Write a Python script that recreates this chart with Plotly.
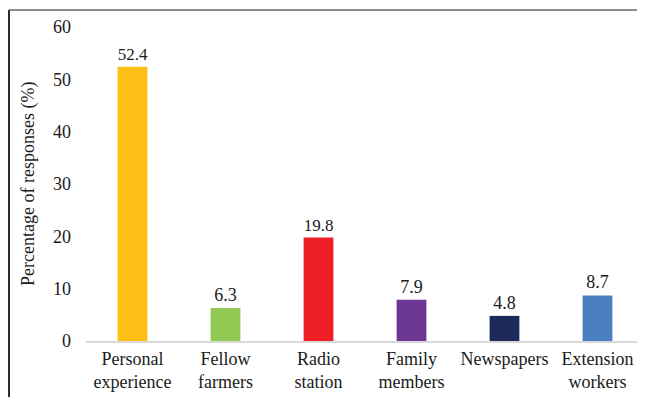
import plotly.graph_objects as go

categories = ["Personal<br>experience", "Fellow<br>farmers", "Radio<br>station",
              "Family<br>members", "Newspapers", "Extension<br>workers"]
values = [52.4, 6.3, 19.8, 7.9, 4.8, 8.7]
bar_colors = ["#FDBF16", "#92C954", "#EE1F25", "#6C3792", "#1F2A5C", "#4A80C2"]
value_labels = ["52.4", "6.3", "19.8", "7.9", "4.8", "8.7"]
y_ticks = [0, 10, 20, 30, 40, 50, 60]
y_title = "Percentage of responses (%)"

font_family = "Liberation Serif"
txt = "#1a1a1a"

fig = go.Figure(go.Bar(
    x=categories, y=values,
    marker=dict(color=bar_colors, line=dict(width=0)),
    text=value_labels, textposition="outside",
    textfont=dict(family=font_family, size=18, color=txt),
    cliponaxis=False,
))

# page body has an 8px margin, so the figure is offset by 8px
OFF = 8
W, H = 645 - OFF, 397 - OFF
L, R, T = 86 - OFF, 1, 27 - OFF
B = H - (341 - OFF)
pw, ph = W - L - R, H - T - B

bx = (9 - OFF - L) / pw          # left border, paper coords
by = (H - B - (10 - OFF)) / ph   # top border, paper coords

fig.update_layout(
    width=W, height=H,
    margin=dict(l=L, r=R, t=T, b=B, autoexpand=False),
    paper_bgcolor="white", plot_bgcolor="white",
    bargap=0.68,
    showlegend=False,
    font=dict(family=font_family, size=18, color=txt),
    xaxis=dict(
        showline=True, linecolor="#D9D9D9", linewidth=2,
        ticks="", showgrid=False, automargin=False,
        tickfont=dict(family=font_family, size=18, color=txt),
    ),
    yaxis=dict(
        range=[0, 60], tickvals=y_ticks, showgrid=False, zeroline=False,
        showline=False, ticks="", ticklabelstandoff=14, automargin=False,
        tickfont=dict(family=font_family, size=18, color=txt),
    ),
    annotations=[
        dict(text=y_title, textangle=-90, showarrow=False,
             xref="paper", yref="paper",
             x=(28 - OFF - L) / pw, y=0.5,
             xanchor="center", yanchor="middle",
             font=dict(family=font_family, size=18, color=txt)),
    ],
    shapes=[
        dict(type="line", xref="paper", yref="paper",
             x0=bx, x1=1.01, y0=by, y1=by,
             line=dict(color="#8C8C8C", width=2)),
        dict(type="line", xref="paper", yref="paper",
             x0=bx, x1=bx, y0=by, y1=-B / ph - 0.01,
             line=dict(color="#2a2a2a", width=2)),
    ],
)

fig.write_html("out.html")
